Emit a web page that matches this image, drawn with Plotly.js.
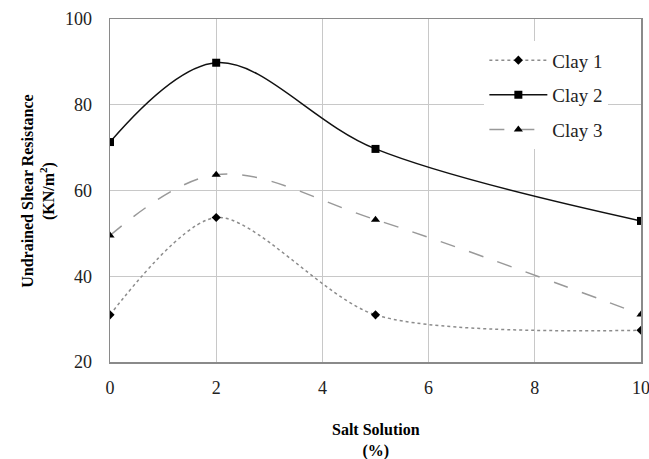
<!DOCTYPE html>
<html>
<head>
<meta charset="utf-8">
<script src="https://cdn.plot.ly/plotly-3.0.1.min.js"></script>
<style>html,body{margin:0;padding:0;background:#fff;}</style>
</head>
<body>
<div id="chart" style="width:649px;height:459px;"></div>
<script>
const saltSolution = [0, 2, 5, 10];
const clay1 = [31, 53.7, 31, 27.4];
const clay2 = [71.3, 89.8, 69.7, 52.9];
const clay3 = [49.5, 63.7, 53.2, 31.1];
const seriesNames = ["Clay 1", "Clay 2", "Clay 3"];
const xTicks = [0, 2, 4, 6, 8, 10];
const yTicks = [20, 40, 60, 80, 100];

const font = "Liberation Serif, Times New Roman, serif";

const traces = [
  {x: saltSolution, y: clay1, name: seriesNames[0], legendgroup: "a", mode: "lines+markers",
   line: {shape: "spline", smoothing: 0.8, color: "#8c8c8c", width: 1.5, dash: "dot"},
   marker: {symbol: "diamond", size: 7, color: "#000"}},
  {x: saltSolution, y: clay2, name: seriesNames[1], legendgroup: "b", mode: "lines+markers",
   line: {shape: "spline", smoothing: 1, color: "#111", width: 1.5, dash: "solid"},
   marker: {symbol: "square", size: 8, color: "#000"}},
  {x: saltSolution, y: clay3, name: seriesNames[2], legendgroup: "c", mode: "lines+markers",
   line: {shape: "spline", smoothing: 1, color: "#999", width: 1.5, dash: "longdash"},
   marker: {symbol: "triangle-up", size: 8, color: "#000"}}
];

const layout = {
  width: 649, height: 459,
  margin: {l: 110, r: 8, t: 19, b: 97},
  paper_bgcolor: "#fff", plot_bgcolor: "#fff",
  font: {family: font, size: 14, color: "#222"},
  showlegend: true,
  legend: {x: 0.705, y: 0.935, xanchor: "left", yanchor: "top",
           bgcolor: "#fff", font: {family: font, size: 19, color: "#222"},
           itemwidth: 58,
           traceorder: "grouped", tracegroupgap: 7},
  xaxis: {range: [0, 10], tickvals: xTicks, showgrid: true, gridcolor: "#c8c8c8",
          showline: true, linecolor: "#8a8a8a", linewidth: 1.5, mirror: true,
          zeroline: false, ticks: "", ticklabelstandoff: 9, ticklabeloverflow: "allow",
          tickfont: {family: font, size: 18, color: "#222"}},
  yaxis: {range: [20, 100], tickvals: yTicks, showgrid: true, gridcolor: "#c8c8c8",
          showline: true, linecolor: "#8a8a8a", linewidth: 1.5, mirror: true,
          zeroline: false, ticks: "", ticklabelstandoff: 13,
          tickfont: {family: font, size: 18, color: "#222"}},
  annotations: [
    {text: "<b>Salt Solution</b><br><b>(%)</b>", xref: "paper", yref: "paper",
     x: 0.5, y: -0.228, xanchor: "center", yanchor: "middle", showarrow: false,
     font: {family: font, size: 16, color: "#000"}},
    {text: "<b>Undrained Shear Resistance</b><br><b>(KN/m<sup>2</sup>)</b>", xref: "paper", yref: "paper",
     x: -0.135, y: 0.5, xanchor: "center", yanchor: "middle", showarrow: false, textangle: -90,
     font: {family: font, size: 16, color: "#000"}}
  ]
};

Plotly.newPlot("chart", traces, layout, {displayModeBar: false, staticPlot: true});
</script>
</body>
</html>
